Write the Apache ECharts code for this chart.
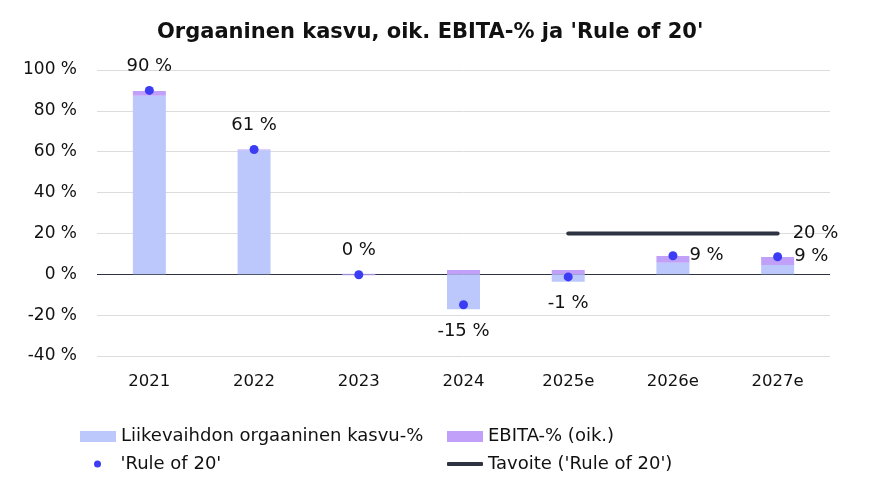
<!DOCTYPE html>
<html>
<head>
<meta charset="utf-8">
<script src="https://cdn.jsdelivr.net/npm/echarts@6/dist/echarts.min.js"></script>
<style>
html,body{margin:0;padding:0;background:#fff;}
#chart{width:881px;height:491px;}
</style>
</head>
<body>
<div id="chart"></div>
<script>
// ---- data ----
const categories = ['2021', '2022', '2023', '2024', '2025e', '2026e', '2027e'];
const organicGrowth = [87.4, 60.7, 0.3, -17.1, -3.6, 5.7, 4.6];
const ebitaAdj = [2.3, 0.4, -0.5, 2.1, 2.1, 3.3, 3.9];
const ruleOf20 = [90.0, 61.1, -0.2, -14.9, -1.3, 9.1, 8.6];
const target = [null, null, null, null, 20, 20, 20];
const yTicks = { min: -40, max: 100, step: 20 };

const seriesNames = {
  growth: 'Liikevaihdon orgaaninen kasvu-%',
  ebita: 'EBITA-% (oik.)',
  rule: "'Rule of 20'",
  target: "Tavoite ('Rule of 20')"
};

// ---- styling ----
const FONT = 'DejaVu Sans';
const TXT = '#111111';
const labelPlacement = ['top', 'top', 'top', 'bottom', 'bottom', 'right', 'right'];
const pct = v => (Math.round(v) + 0) + ' %';

const chart = echarts.init(document.getElementById('chart'), null, { renderer: 'canvas' });

const ruleData = ruleOf20.map((v, i) => ({
  value: v,
  label: {
    position: labelPlacement[i],
    distance: labelPlacement[i] === 'top' ? 10 : 12
  }
}));

const legendBase = {
  orient: 'horizontal',
  padding: 0,
  itemGap: 0,
  textStyle: { fontFamily: FONT, fontSize: 18, color: TXT, lineHeight: 20 },
  selectedMode: false
};

chart.setOption({
  animation: false,
  backgroundColor: '#ffffff',
  textStyle: { fontFamily: FONT },
  title: {
    text: "Orgaaninen kasvu, oik. EBITA-% ja 'Rule of 20'",
    left: 157,
    top: 20,
    padding: 0,
    textStyle: { fontFamily: FONT, fontSize: 21, fontWeight: 'bold', color: TXT, lineHeight: 26 }
  },
  legend: [
    Object.assign({}, legendBase, {
      left: 80, top: 426.5, itemWidth: 36, itemHeight: 11,
      data: [{ name: seriesNames.growth, icon: 'rect' }]
    }),
    Object.assign({}, legendBase, {
      left: 447, top: 426.5, itemWidth: 36, itemHeight: 11,
      data: [{ name: seriesNames.ebita, icon: 'rect' }]
    }),
    Object.assign({}, legendBase, {
      left: 94, top: 454, itemWidth: 36, itemHeight: 7,
      data: [{ name: seriesNames.rule, icon: 'circle' }]
    }),
    Object.assign({}, legendBase, {
      left: 447, top: 454, itemWidth: 36, itemHeight: 4,
      data: [{ name: seriesNames.target, icon: 'roundRect' }]
    })
  ],
  grid: { left: 97, right: 51, top: 70, bottom: 135, containLabel: false },
  xAxis: {
    type: 'category',
    data: categories,
    axisLine: { show: false, onZero: false },
    axisTick: { show: false },
    axisLabel: { fontFamily: FONT, fontSize: 16.5, color: TXT, margin: 17, lineHeight: 18 },
    splitLine: { show: false }
  },
  yAxis: {
    type: 'value',
    min: yTicks.min,
    max: yTicks.max,
    interval: yTicks.step,
    axisLine: { show: false },
    axisTick: { show: false },
    axisLabel: {
      fontFamily: FONT, fontSize: 17, color: TXT, margin: 20,
      formatter: v => v + ' %'
    },
    splitLine: {
      show: true,
      lineStyle: {
        width: 1,
        color: ['#dcdcdc', '#dcdcdc', '#2d3341', '#dcdcdc', '#dcdcdc', '#dcdcdc', '#dcdcdc', '#dcdcdc']
      }
    }
  },
  series: [
    {
      name: seriesNames.growth,
      type: 'bar',
      stack: 'total',
      barWidth: 33,
      itemStyle: { color: '#bcc8fc' },
      data: organicGrowth,
      z: 2
    },
    {
      name: seriesNames.ebita,
      type: 'bar',
      stack: 'total',
      barWidth: 33,
      itemStyle: { color: '#c0a0f8' },
      data: ebitaAdj,
      z: 2
    },
    {
      name: seriesNames.rule,
      type: 'scatter',
      symbol: 'circle',
      symbolSize: 9,
      itemStyle: { color: '#3c3cf5', opacity: 1 },
      label: {
        show: true,
        fontFamily: FONT,
        fontSize: 18,
        lineHeight: 20,
        color: TXT,
        opacity: 1,
        formatter: p => pct(p.value)
      },
      data: ruleData,
      z: 5
    },
    {
      name: seriesNames.target,
      type: 'line',
      symbol: 'none',
      showSymbol: false,
      connectNulls: false,
      lineStyle: { color: '#2d3341', width: 4, cap: 'round' },
      itemStyle: { color: '#2d3341' },
      endLabel: {
        show: true,
        distance: 15,
        fontFamily: FONT,
        fontSize: 18,
        color: TXT,
        formatter: p => pct(p.value)
      },
      data: target,
      z: 4
    }
  ]
});
</script>
</body>
</html>
